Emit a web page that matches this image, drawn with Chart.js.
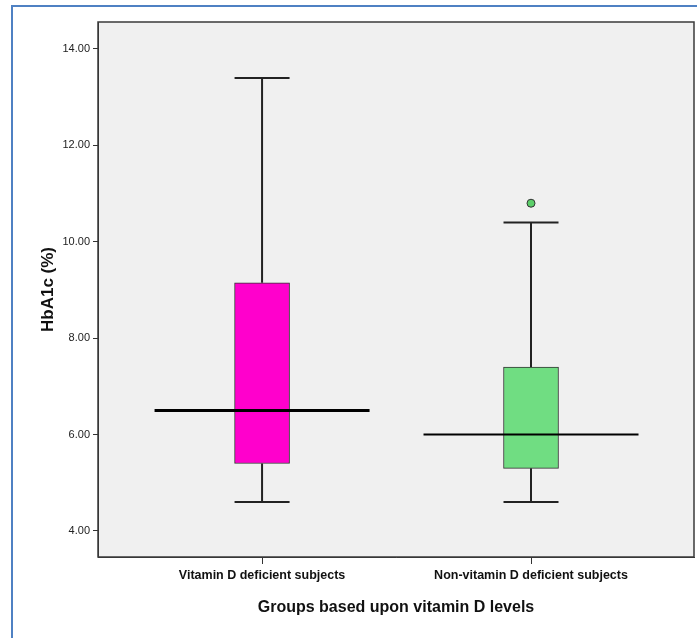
<!DOCTYPE html>
<html>
<head>
<meta charset="utf-8">
<script src="https://cdn.jsdelivr.net/npm/chart.js@4"></script>
<style>
  html, body { margin: 0; padding: 0; background: #fff; }
  #wrap { position: relative; width: 697px; height: 638px; overflow: hidden; }
  #frame { position: absolute; left: 11px; top: 5px; right: -4px; bottom: -4px;
           border-left: 2px solid #4f81c3; border-top: 2px solid #4f81c3; }
  canvas { position: absolute; left: 0; top: 0; }
</style>
</head>
<body>
<div id="wrap">
  <div id="frame"></div>
  <canvas id="boxChart" width="697" height="638"></canvas>
</div>
<script>
// box plot summary, read from the SPSS output
const groups = ["Vitamin D deficient subjects", "Non-vitamin D deficient subjects"];
const groupPos = [1, 2];
const whiskerLow = [4.6, 4.6];
const q1 = [5.4, 5.3];
const median = [6.5, 6.0];
const q3 = [9.15, 7.4];
const whiskerHigh = [13.4, 10.4];
const outliers = [[], [10.8]];
const yTicks = [4, 6, 8, 10, 12, 14];

const boxColors = ["#ff00cc", "#70dd82"];
const ink = "#222";

// plot panel background + frame
const plotFrame = {
  id: "plotFrame",
  beforeDraw(chart) {
    const { ctx, chartArea: a } = chart;
    ctx.save();
    ctx.fillStyle = "#f0f0f0";
    ctx.fillRect(a.left, a.top, a.right - a.left, a.bottom - a.top);
    ctx.restore();
  },
  afterDatasetsDraw(chart) {
    const { ctx, chartArea: a } = chart;
    ctx.save();
    ctx.strokeStyle = "#3a3a3a";
    ctx.lineWidth = 1.5;
    ctx.strokeRect(a.left, a.top, a.right - a.left, a.bottom - a.top);
    ctx.restore();
  }
};

const datasets = [];

// boxes (Q1..Q3)
datasets.push({
  type: "bar",
  data: groupPos.map((x, i) => ({ x, y: [q1[i], q3[i]] })),
  backgroundColor: boxColors,
  borderColor: "#333",
  borderWidth: 1,
  borderSkipped: false,
  barThickness: 55,
  order: 5
});

// whisker stems
groupPos.forEach((x, i) => {
  [[whiskerLow[i], q1[i]], [q3[i], whiskerHigh[i]]].forEach(seg => {
    datasets.push({
      type: "line",
      data: seg.map(y => ({ x, y })),
      borderColor: ink,
      borderWidth: 2,
      pointRadius: 0,
      order: 4
    });
  });
});

// whisker caps
datasets.push({
  type: "scatter",
  data: groupPos.flatMap((x, i) => [{ x, y: whiskerLow[i] }, { x, y: whiskerHigh[i] }]),
  pointStyle: "line",
  pointRadius: 27.5,
  pointBorderWidth: 2,
  pointBorderColor: ink,
  order: 3
});

// median lines (drawn wider than the box, as in the original)
datasets.push({
  type: "scatter",
  data: groupPos.map((x, i) => ({ x, y: median[i] })),
  pointStyle: "line",
  pointRadius: 107.5,
  pointBorderWidth: [3, 2],
  pointBorderColor: "#000",
  order: 1
});

// outliers
datasets.push({
  type: "scatter",
  data: groupPos.flatMap((x, i) => outliers[i].map(y => ({ x, y }))),
  pointStyle: "circle",
  pointRadius: 4,
  pointBackgroundColor: "#5ccf6a",
  pointBorderColor: "#333",
  pointBorderWidth: 1,
  order: 1
});

new Chart(document.getElementById("boxChart"), {
  type: "bar",
  data: { datasets },
  plugins: [plotFrame],
  options: {
    responsive: false,
    animation: false,
    layout: { autoPadding: false, padding: { top: 22, right: 3, left: 0, bottom: 0 } },
    plugins: { legend: { display: false }, tooltip: { enabled: false } },
    scales: {
      x: {
        type: "linear",
        offset: false,
        min: 0.39,
        max: 2.606,
        afterBuildTicks: s => { s.ticks = groupPos.map(v => ({ value: v })); },
        afterFit: s => { s.height = 81; },
        ticks: {
          autoSkip: false,
          maxRotation: 0,
          padding: 4,
          color: "#111",
          font: { family: "Liberation Sans, Arial, sans-serif", size: 12.5, weight: "bold" },
          callback: v => groups[groupPos.indexOf(v)]
        },
        grid: { offset: false, drawOnChartArea: false, tickLength: 7, color: "#333" },
        border: { color: "#333" },
        title: {
          display: true,
          text: "Groups based upon vitamin D levels",
          color: "#111",
          padding: { bottom: 21 },
          font: { family: "Liberation Sans, Arial, sans-serif", size: 16, weight: "bold" }
        }
      },
      y: {
        min: 3.46,
        max: 14.56,
        afterBuildTicks: s => { s.ticks = yTicks.map(v => ({ value: v })); },
        afterFit: s => { s.width = 98; },
        ticks: {
          padding: 3,
          color: ink,
          font: { family: "Liberation Sans, Arial, sans-serif", size: 11 },
          callback: v => v.toFixed(2)
        },
        grid: { drawOnChartArea: false, tickLength: 5, color: "#333" },
        border: { color: "#333" },
        title: {
          display: true,
          text: "HbA1c (%)",
          color: "#111",
          padding: { top: 38 },
          font: { family: "Liberation Sans, Arial, sans-serif", size: 17, weight: "bold" }
        }
      }
    }
  }
});
</script>
</body>
</html>
